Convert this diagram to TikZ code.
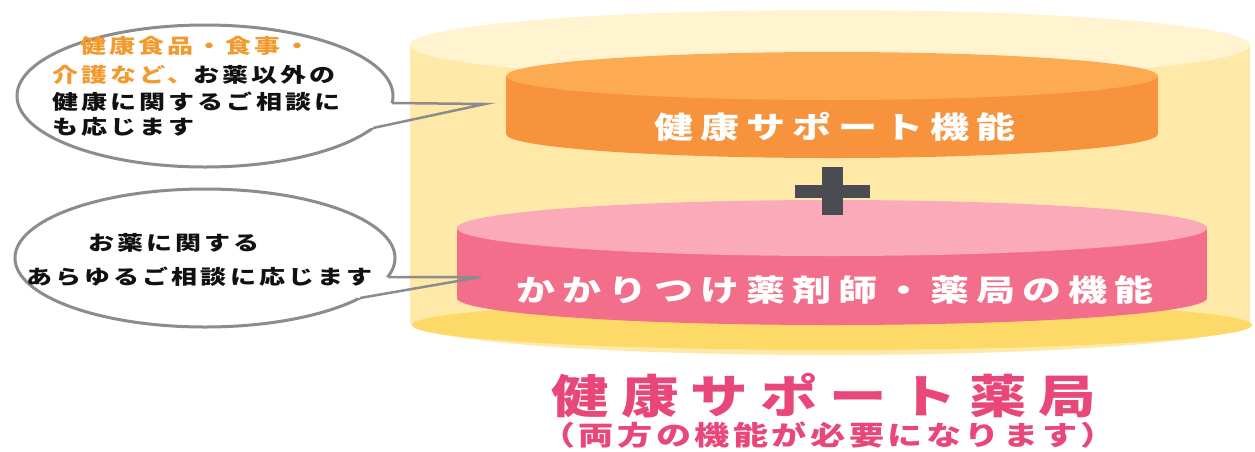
\documentclass[tikz,border=0pt]{standalone}
\usepackage{fontspec}
\usepackage{graphicx}
\usetikzlibrary{calc}
\newfontfamily\jp{Noto Sans CJK JP}
\definecolor{orng}{HTML}{F39A2E}
\definecolor{titlepink}{HTML}{E9467A}
\definecolor{otop}{HTML}{FDAB52}
\definecolor{oside}{HTML}{F7933C}
\definecolor{ptop}{HTML}{FBAABA}
\definecolor{pside}{HTML}{F36E8A}
\definecolor{btop}{HTML}{FFF3D0}
\definecolor{bside}{HTML}{FFE9A8}
\definecolor{bshadow}{HTML}{FDD967}
\definecolor{plusc}{HTML}{4B4B52}
\definecolor{bubgray}{HTML}{8C8C8C}
\definecolor{txtblack}{HTML}{111111}
\begin{document}
\begin{tikzpicture}[x=1pt,y=-1pt,
  bubline/.style={draw=bubgray, line width=3pt},
  tailline/.style={draw=bubgray, line width=2.5pt},
  bubtxt/.style={inner sep=0pt, anchor=west, text=txtblack,
    font=\jp\bfseries\fontsize{20}{20}\selectfont\addfontfeatures{LetterSpace=12}},
  cyltxt/.style={inner sep=0pt, text=white,
    font=\jp\bfseries\fontsize{30}{30}\selectfont\addfontfeatures{LetterSpace=18}},
  titletxt/.style={inner sep=0pt, text=titlepink,
    font=\jp\bfseries\fontsize{46}{46}\selectfont\addfontfeatures{LetterSpace=21}},
  subtxt/.style={inner sep=0pt, text=titlepink,
    font=\jp\bfseries\fontsize{27}{27}\selectfont\addfontfeatures{LetterSpace=10}}]
\useasboundingbox (0,0) rectangle (1255,451);
\fill[white] (0,0) rectangle (1255,451);

% ---- speech bubble 1
\coordinate (c1) at (205,96);
\coordinate (a1) at (392,103);
\coordinate (t1) at (485,104);
\coordinate (b1) at (373,128);
\draw[bubline, fill=white] (c1) ellipse [x radius=188pt, y radius=71pt];
\fill[white] (a1) -- (t1) -- (b1) -- ($(b1)+(-5,-1)$) -- ($(a1)+(-5,0)$) -- cycle;

% ---- speech bubble 2
\coordinate (c2) at (205,258);
\coordinate (a2) at (388,277);
\coordinate (t2) at (481,277);
\coordinate (b2) at (360,298);
\draw[bubline, fill=white] (c2) ellipse [x radius=190pt, y radius=69pt];
\fill[white] (a2) -- (t2) -- (b2) -- ($(b2)+(-5,-1)$) -- ($(a2)+(-5,0)$) -- cycle;

% ---- big pale cylinder
\fill[bside] (830,322) ellipse [x radius=420pt, y radius=33pt];
\fill[bside] (410,45) rectangle (1250,322);
\fill[btop] (830,45) ellipse [x radius=420pt, y radius=35pt];
\fill[bshadow] (832,325) ellipse [x radius=420pt, y radius=25pt];

% ---- orange cylinder
\fill[oside] (832,134) ellipse [x radius=326pt, y radius=24pt];
\fill[oside] (506,76) rectangle (1158,134);
\fill[otop] (832,76) ellipse [x radius=326pt, y radius=24pt];

% ---- pink cylinder
\fill[pside] (832,298) ellipse [x radius=375pt, y radius=27pt];
\fill[pside] (457,228) rectangle (1207,298);
\fill[ptop] (832,228) ellipse [x radius=375pt, y radius=28pt];

% ---- plus sign
\fill[plusc] (795,185) rectangle (870,198);
\fill[plusc] (822,167) rectangle (843,215);

% ---- tail lines
\draw[tailline] (a1) -- (t1) -- (b1);
\draw[tailline] (a2) -- (t2) -- (b2);

% ---- bubble texts
\node[bubtxt, text=orng] (q1) at (80,46) {\scalebox{1.3}[1]{健康食品・食事・}};
\node[bubtxt] (q2) at (52,75) {\scalebox{1.3}[1]{\textcolor{orng}{介護など、}お薬以外の}};
\node[bubtxt] (q3) at (52,102) {\scalebox{1.3}[1]{健康に関するご相談に}};
\node[bubtxt] (q4) at (52,127) {\scalebox{1.3}[1]{も応じます}};

\node[bubtxt] (r1) at (88,243) {\scalebox{1.3}[1]{お薬に関する}};
\node[bubtxt] (r2) at (26,277) {\scalebox{1.3}[1]{あらゆるご相談に応じます}};

% ---- cylinder labels
\node[cyltxt] (lab1) at (835,127) {\scalebox{1.3}[1]{健康サポート機能}};
\node[cyltxt] (lab2) at (835,290) {\scalebox{1.3}[1]{かかりつけ薬剤師・薬局の機能}};

% ---- title
\node[titletxt] (title) at (824,396) {\scalebox{1.25}[1]{健康サポート薬局}};
\node[subtxt] (sub) at (828,435) {\scalebox{1.3}[1]{（両方の機能が必要になります）}};
\end{tikzpicture}
\end{document}
